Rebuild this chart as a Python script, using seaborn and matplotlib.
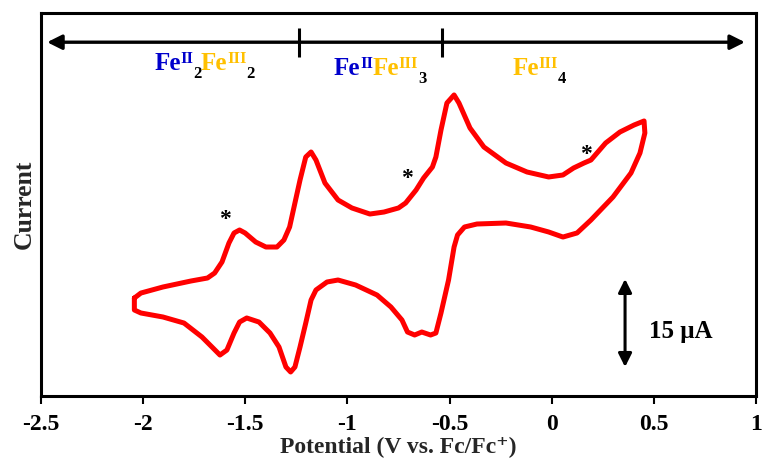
import matplotlib
matplotlib.use("Agg")
import matplotlib.pyplot as plt
import numpy as np
import pandas as pd
import seaborn as sns

# Cyclic voltammogram, potential in V vs. Fc/Fc+, current in uA (closed loop)
potential = [
    -2.043, -2.011, -1.903, -1.766, -1.685, -1.650, -1.614, -1.580, -1.555, -1.528,
    -1.501, -1.449, -1.399, -1.345, -1.311, -1.283, -1.257, -1.232, -1.204, -1.178,
    -1.154, -1.110, -1.046, -0.978, -0.890, -0.821, -0.750, -0.715, -0.664, -0.627,
    -0.584, -0.567, -0.542, -0.513, -0.478, -0.454, -0.400, -0.332, -0.224, -0.121,
    -0.015, 0.055, 0.107, 0.158, 0.192, 0.264, 0.334, 0.403, 0.452, 0.456,
    0.432, 0.388, 0.300, 0.192, 0.124, 0.055, -0.015, -0.103, -0.224, -0.366,
    -0.427, -0.461, -0.478, -0.505, -0.542, -0.567, -0.593, -0.636, -0.671, -0.706,
    -0.733, -0.787, -0.855, -0.960, -1.046, -1.100, -1.154, -1.178, -1.204, -1.232,
    -1.257, -1.278, -1.301, -1.335, -1.379, -1.433, -1.493, -1.528, -1.555, -1.590,
    -1.624, -1.658, -1.712, -1.800, -1.903, -2.011, -2.043, -2.043,
]
current = [
    -8.18, -7.33, -6.30, -5.28, -4.77, -3.92, -2.04, 1.19, 2.90, 3.41,
    2.90, 1.36, 0.51, 0.51, 1.70, 3.92, 8.01, 11.93, 15.84, 16.70,
    15.33, 11.41, 8.52, 7.16, 6.13, 6.47, 7.16, 8.01, 10.22, 12.27,
    14.14, 15.84, 20.44, 25.04, 26.41, 25.04, 20.78, 17.55, 14.82, 13.29,
    12.44, 12.78, 13.97, 14.82, 15.33, 18.23, 20.10, 21.29, 21.98, 19.93,
    16.52, 13.12, 9.03, 5.11, 2.90, 2.21, 3.07, 3.92, 4.60, 4.43,
    3.92, 2.56, 0.51, -5.11, -10.73, -14.14, -14.48, -13.97, -14.48, -13.97,
    -11.93, -9.71, -7.67, -5.96, -5.11, -5.45, -6.81, -8.52, -12.44, -16.52,
    -19.93, -20.78, -19.93, -16.52, -14.14, -12.27, -11.58, -12.27, -14.14, -17.04,
    -17.89, -16.70, -14.82, -12.44, -11.41, -10.73, -10.22, -8.18,
]

# Shoulder features marked with an asterisk
star_potential = [-1.599, -0.709, 0.168]
star_current = [6.30, 13.29, 17.38]

# Stability ranges of the mixed-valence states
range_limits = [-2.47, 0.946]
range_bounds = [-1.237, -0.537]
range_level = 35.4

x_ticks = [-2.5, -2.0, -1.5, -1.0, -0.5, 0.0, 0.5, 1.0]
x_tick_labels = ["-2.5", "-2", "-1.5", "-1", "-0.5", "0", "0.5", "1"]

scale_value = 15.0
scale_x = 0.359
scale_top = -4.93

BLUE = "#0000CC"
GOLD = "#FFC000"

sns.set_style("ticks")
plt.rcParams["font.family"] = ["Liberation Serif", "DejaVu Serif"]

fig = plt.figure(figsize=(7.63, 4.63), dpi=100)
ax = fig.add_axes([41 / 763, 1 - 396 / 463, (756 - 41) / 763, (396 - 12.5) / 463])

df = pd.DataFrame({"potential": potential, "current": current})
sns.lineplot(data=df, x="potential", y="current", sort=False, estimator=None,
             color="#FF0000", linewidth=3.6, ax=ax)
for ln in ax.get_lines():
    ln.set_solid_joinstyle("round")
    ln.set_solid_capstyle("round")

ax.set_xlim(-2.5, 1.0)
ax.set_ylim(-24.87, 40.46)
ax.set_xticks(x_ticks)
ax.set_xticklabels(x_tick_labels, fontsize=17, fontweight="bold")
ax.set_yticks([])
ax.tick_params(axis="x", direction="out", length=6, width=1.5, pad=7, colors="black")
for side in ["left", "right", "top", "bottom"]:
    ax.spines[side].set_visible(True)
    ax.spines[side].set_linewidth(2.2)
    ax.spines[side].set_color("black")

ax.set_xlabel("Potential (V vs. Fc/Fc\u207a)", fontsize=17, fontweight="bold", labelpad=1)
ax.set_ylabel("Current", fontsize=18.5, fontweight="bold", labelpad=4)

# Asterisks
for sx, sy in zip(star_potential, star_current):
    ax.annotate("*", xy=(sx, sy), xytext=(0, -5), textcoords="offset points",
                ha="center", va="center", fontsize=17, fontweight="bold", color="black")

# Double-headed range bar with divisions
ax.annotate("", xy=(range_limits[0], range_level), xytext=(range_limits[1], range_level),
            arrowprops=dict(arrowstyle="<|-|>", color="black", lw=2.4,
                            mutation_scale=22, shrinkA=0, shrinkB=0))
for b in range_bounds:
    ax.plot([b, b], [range_level - 2.6, range_level + 2.4], color="black", lw=2.2,
            solid_capstyle="butt")

# Current scale bar
ax.annotate("", xy=(scale_x, scale_top), xytext=(scale_x, scale_top - scale_value),
            arrowprops=dict(arrowstyle="<|-|>", color="black", lw=2.2,
                            mutation_scale=20, shrinkA=0, shrinkB=0))
ax.text(0.476, scale_top - scale_value / 2 - 1.4, "15 \u03bcA", fontsize=18,
        fontweight="bold", ha="left", va="center", color="black")

# Oxidation-state labels built from coloured pieces
renderer = fig.canvas.get_renderer()


def rich_label(x, y, pieces):
    widths = []
    for s, c, fs, rise in pieces:
        t = ax.text(0, 0, s, fontsize=fs, fontweight="bold")
        widths.append(t.get_window_extent(renderer).width * 72 / fig.dpi)
        t.remove()
    total = sum(widths)
    off = -total / 2
    for (s, c, fs, rise), w in zip(pieces, widths):
        ax.annotate(s, xy=(x, y), xytext=(off, rise), textcoords="offset points",
                    ha="left", va="baseline", fontsize=fs, fontweight="bold", color=c)
        off += w - 0.3


SUP = 5.0
SUB = -5.5
rich_label(-1.695, 30.66, [("Fe", BLUE, 18, 0), ("II", BLUE, 12, SUP), ("2", "black", 12, SUB),
                           ("Fe", GOLD, 18, 0), ("III", GOLD, 12, SUP), ("2", "black", 12, SUB)])
rich_label(-0.836, 29.81, [("Fe", BLUE, 18, 0), ("II", BLUE, 12, SUP),
                           ("Fe", GOLD, 18, 0), ("III", GOLD, 12, SUP), ("3", "black", 12, SUB)])
rich_label(-0.058, 29.81, [("Fe", GOLD, 18, 0), ("III", GOLD, 12, SUP), ("4", "black", 12, SUB)])

fig.savefig("out.png", dpi=100)
